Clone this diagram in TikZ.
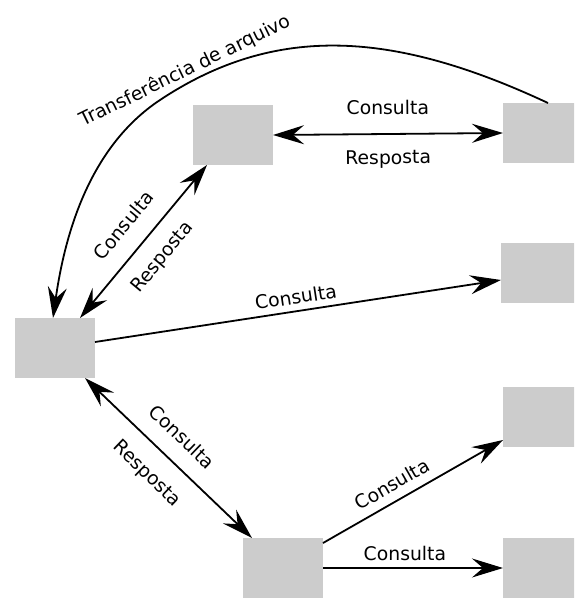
\documentclass[tikz,border=0pt]{standalone}
\usepackage{fontspec}
\setmainfont{DejaVu Sans}
\usetikzlibrary{arrows.meta}
\definecolor{boxgray}{HTML}{CCCCCC}

\begin{document}
\begin{tikzpicture}[x=1pt, y=-1pt,
  peer/.style={fill=boxgray, draw=none, minimum width=80pt, minimum height=60pt,
    inner sep=0pt, outer sep=0pt},
  tip/.tip={Stealth[length=31pt, width=19pt, inset=11pt]},
  link/.style={line width=1.8pt, -tip},
  twoway/.style={line width=1.8pt, tip-tip},
  txt/.style={font=\fontsize{18.8}{22}\selectfont, inner sep=0pt,
    text height=13.7pt, text depth=0pt},
  lbl/.style={txt, sloped}]

  % canvas
  \useasboundingbox (0,0) rectangle (574,598);
  \clip (0,0) rectangle (574,598);
  \fill[white] (0,0) rectangle (574,598);

  % peers
  \node[peer] (L) at (55,348) {};
  \node[peer] (A) at (233,135) {};
  \node[peer] (B) at (543,133) {};
  \node[peer] (C) at (541,273) {};
  \node[peer] (E) at (543,417) {};
  \node[peer] (D) at (283,568) {};
  \node[peer] (F) at (543,568) {};

  % query / reply exchanges
  \draw[twoway] (A.east) -- (B.west)
    node[lbl, midway, above=18.5pt] {Consulta}
    node[lbl, midway, below=15.5pt] {Resposta};

  \draw[twoway] ([xshift=25pt]L.north) -- ([xshift=14pt]A.south west)
    node[lbl, midway, above=18pt] {Consulta}
    node[lbl, midway, below=15.5pt] {Resposta};

  \draw[twoway] ([xshift=-10pt]L.south east) -- ([xshift=9pt]D.north west)
    node[lbl, pos=0.48, above=17pt] {Consulta}
    node[lbl, pos=0.48, below=17pt] {Resposta};

  % forwarded queries
  \draw[link] ([yshift=6pt]L.east) -- ([yshift=-7pt]C.west)
    node[lbl, pos=0.5, above=6.5pt] {Consulta};

  \draw[link] ([yshift=-5pt]D.north east) -- ([yshift=7pt]E.south west)
    node[lbl, pos=0.43, above=9pt] {Consulta};

  \draw[link] (D.east) -- (F.west)
    node[lbl, pos=0.455, above=6.3pt] {Consulta};

  % file transfer
  \coordinate (bend) at (160,100);
  \draw[link] ([xshift=5pt]B.north) .. controls (394,31) and (276,23) .. (bend)
    .. controls (89.5,146.8) and (64.9,233.8) .. ([xshift=-2pt]L.north);
  \node[txt, rotate=26, anchor=base] (xfer) at (188,76) {Transferência de arquivo};
\end{tikzpicture}
\end{document}
